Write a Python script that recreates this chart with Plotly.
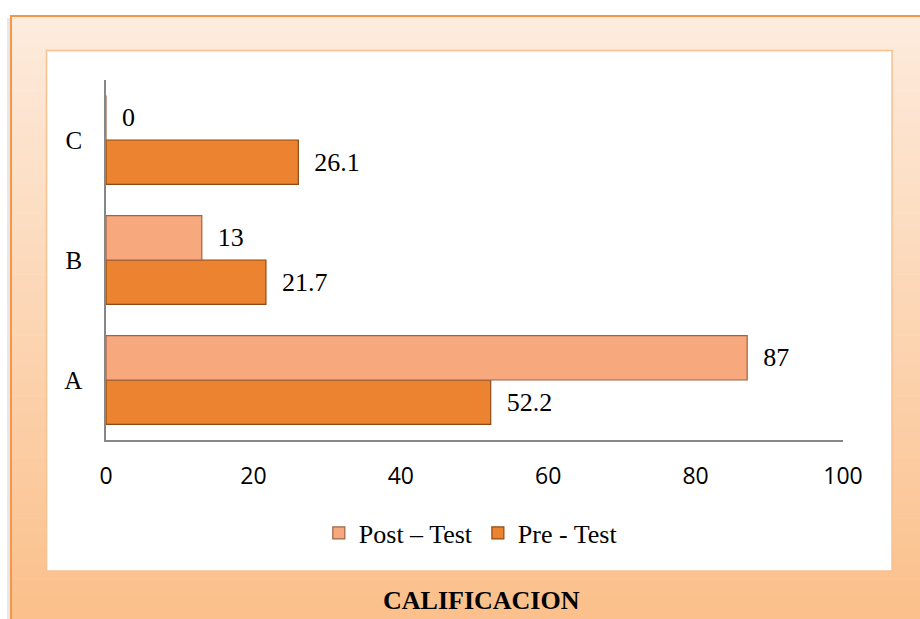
import plotly.graph_objects as go

categories = ["A", "B", "C"]
pre_test = [52.2, 21.7, 26.1]
post_test = [87, 13, 0]
x_ticks = [0, 20, 40, 60, 80, 100]

W, H = 920, 619
L, R, T, B = 106, 843, 80, 440


def px(x):
    return (x - L) / (R - L)


def py(y):
    return (B - y) / (B - T)


SERIF = "Liberation Serif"
PAD = "\u2002"

fig = go.Figure()
fig.add_trace(go.Bar(
    y=categories, x=pre_test, orientation="h", name="Pre - Test",
    marker=dict(color="#EC8330", line=dict(color="#8E4A12", width=1.2)),
    text=[PAD + f"{v:g}" for v in pre_test], textposition="outside",
    textfont=dict(family=SERIF, size=26, color="black"),
    cliponaxis=False,
))
fig.add_trace(go.Bar(
    y=categories, x=post_test, orientation="h", name="Post \u2013 Test",
    marker=dict(color="#F7A97D", line=dict(color="#9C6448", width=1.2)),
    text=[PAD + f"{v:g}" for v in post_test], textposition="outside",
    textfont=dict(family=SERIF, size=26, color="black"),
    cliponaxis=False,
))

shapes = []
# soft shadow left of the frame
shapes.append(dict(type="rect", xref="paper", yref="paper",
                   x0=px(7), x1=px(11), y0=py(18), y1=py(640),
                   fillcolor="rgba(120,120,120,0.18)", line=dict(width=0), layer="below"))
# gradient background stripes
n = 40
top_c = (253, 235, 220)
bot_c = (251, 192, 139)
y0, y1 = 15, 625
for i in range(n):
    t = i / (n - 1)
    c = tuple(round(top_c[k] + (bot_c[k] - top_c[k]) * t) for k in range(3))
    ya = y0 + (y1 - y0) * i / n
    yb = y0 + (y1 - y0) * (i + 1) / n + 0.5
    shapes.append(dict(type="rect", xref="paper", yref="paper",
                       x0=px(10), x1=px(930), y0=py(ya), y1=py(yb),
                       fillcolor=f"rgb{c}", line=dict(width=0), layer="below"))
# outer border
shapes.append(dict(type="rect", xref="paper", yref="paper",
                   x0=px(11), x1=px(935), y0=py(16), y1=py(640),
                   fillcolor="rgba(0,0,0,0)", line=dict(color="#F79646", width=2),
                   layer="below"))
# inner white panel
shapes.append(dict(type="rect", xref="paper", yref="paper",
                   x0=px(46.5), x1=px(892), y0=py(50.5), y1=py(571),
                   fillcolor="white", line=dict(color="#FAC090", width=1.5),
                   layer="below"))

fig.update_layout(
    width=W, height=H,
    margin=dict(l=L, r=W - R, t=T, b=H - B, pad=0),
    paper_bgcolor="white",
    plot_bgcolor="rgba(0,0,0,0)",
    barmode="group", bargap=0.26, bargroupgap=0,
    shapes=shapes,
    showlegend=True,
    legend=dict(orientation="h", x=0.495, xanchor="center", y=py(533), yanchor="middle",
                traceorder="reversed",
                font=dict(family=SERIF, size=26, color="black"),
                bgcolor="rgba(0,0,0,0)", itemwidth=30),
    xaxis=dict(range=[0, 100], tickvals=x_ticks, showgrid=False, zeroline=False,
               showline=True, linecolor="#878787", linewidth=1.5, ticks="",
               tickfont=dict(family="Open Sans", size=23, color="black"),
               ticklabelstandoff=15, fixedrange=True),
    yaxis=dict(showgrid=False, zeroline=False, showline=True, linecolor="#878787",
               linewidth=1.5, ticks="",
               tickfont=dict(family=SERIF, size=25, color="black"),
               ticklabelstandoff=17, fixedrange=True),
    annotations=[dict(text="<b>CALIFICACION</b>", xref="paper", yref="paper",
                      x=px(481), y=py(600), xanchor="center", yanchor="middle",
                      showarrow=False,
                      font=dict(family=SERIF, size=26, color="black"))],
)

fig.write_html("out.html", config={"displayModeBar": False},
               post_script="document.body.style.margin='0px';document.body.style.overflow='hidden';")
